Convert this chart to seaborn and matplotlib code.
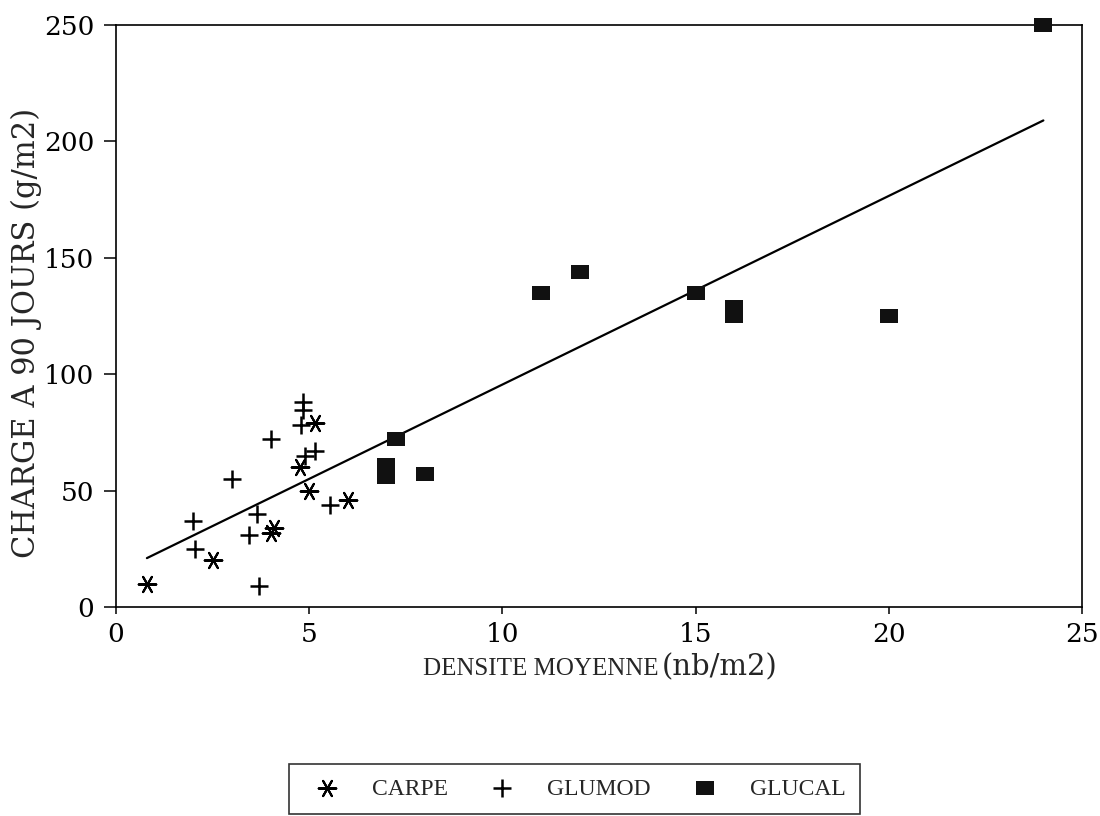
import numpy as np
import pandas as pd
import matplotlib
matplotlib.use("Agg")
import matplotlib.pyplot as plt
from matplotlib.path import Path
import seaborn as sns

# ---- data ----
carpe_x = [0.8, 2.5, 4.0, 4.1, 4.75, 5.0, 5.15, 6.0]
carpe_y = [10, 20, 32, 34, 60, 50, 79, 46]

glumod_x = [2.0, 2.05, 3.0, 3.45, 3.65, 3.7, 4.0, 4.8, 4.85, 4.85, 4.9, 5.15, 5.55]
glumod_y = [37, 25, 55, 31, 40, 9, 72, 78, 84.5, 88, 65, 67, 44]

glucal_x = [7.0, 7.0, 7.25, 8.0, 11.0, 12.0, 15.0, 16.0, 16.0, 20.0, 24.0]
glucal_y = [56, 61, 72, 57, 135, 144, 135, 125, 129, 125, 250]

fit_x = [0.8, 24.0]
fit_y = [21, 209]

series_names = ["CARPE", "GLUMOD", "GLUCAL"]
x_ticks = [0, 5, 10, 15, 20, 25]
y_ticks = [0, 50, 100, 150, 200, 250]
x_label_main = "DENSITE MOYENNE"
x_label_unit = "(nb/m2)"
y_label = "CHARGE A 90 JOURS (g/m2)"

# ---- style ----
sns.set_style("white")
plt.rcParams["font.family"] = ["DejaVu Serif", "DejaVu Sans"]

fig = plt.figure(figsize=(11, 8.16), dpi=100)
ax = fig.add_axes([116/1100, 1-607/816, (1082-116)/1100, (607-25)/816])

df_c = pd.DataFrame({"x": carpe_x, "y": carpe_y})
df_g = pd.DataFrame({"x": glumod_x, "y": glumod_y})
df_l = pd.DataFrame({"x": glucal_x, "y": glucal_y})
df_f = pd.DataFrame({"x": fit_x, "y": fit_y})

asterisk = (6, 2, 90)
rect = Path([(-1, -0.72), (1, -0.72), (1, 0.72), (-1, 0.72), (-1, -0.72)],
            [Path.MOVETO, Path.LINETO, Path.LINETO, Path.LINETO, Path.CLOSEPOLY])

sns.lineplot(data=df_f, x="x", y="y", ax=ax, color="black", linewidth=1.6,
             legend=False)
sns.scatterplot(data=df_c, x="x", y="y", ax=ax, marker=asterisk, s=160,
                color="black", linewidth=1.5, label=series_names[0], clip_on=False)
sns.scatterplot(data=df_g, x="x", y="y", ax=ax, marker="+", s=170,
                color="black", linewidth=1.8, label=series_names[1], clip_on=False)
sns.scatterplot(data=df_l, x="x", y="y", ax=ax, marker=rect, s=170,
                color="#111111", edgecolor="#111111", linewidth=0,
                label=series_names[2], clip_on=False, zorder=3)

ax.set_xlim(0, 25)
ax.set_ylim(0, 250)
ax.set_xticks(x_ticks)
ax.set_yticks(y_ticks)
ax.set_xlabel("")
ax.set_ylabel("")
for sp in ax.spines.values():
    sp.set_color("black")
    sp.set_linewidth(1.2)
ax.tick_params(axis="both", which="both", direction="out", color="black",
               width=1.1, labelsize=19, labelcolor="black")
ax.tick_params(axis="y", length=8.5, pad=7, left=True)
ax.tick_params(axis="x", length=5, pad=6, bottom=True)

fig.text(423/1100, 1-675/816, x_label_main, family="Liberation Serif",
         fontsize=18, ha="left", va="baseline")
fig.text(662/1100, 1-675/816, x_label_unit, family="DejaVu Serif",
         fontsize=21, ha="left", va="baseline")
fig.text(26/1100, 1-333/816, y_label, family="DejaVu Serif", fontsize=22,
         rotation=90, ha="center", va="center")

leg = ax.legend(loc="upper left", bbox_to_anchor=(289/1100, 1-764/816),
                bbox_transform=fig.transFigure, ncol=3, frameon=True,
                fancybox=False, edgecolor="black", borderpad=0.6,
                borderaxespad=0, handletextpad=0.9, columnspacing=1.3,
                handlelength=2.0,
                prop={"family": "Liberation Serif", "size": 17})
leg.get_frame().set_linewidth(1.2)

fig.savefig("out.png", dpi=100)
